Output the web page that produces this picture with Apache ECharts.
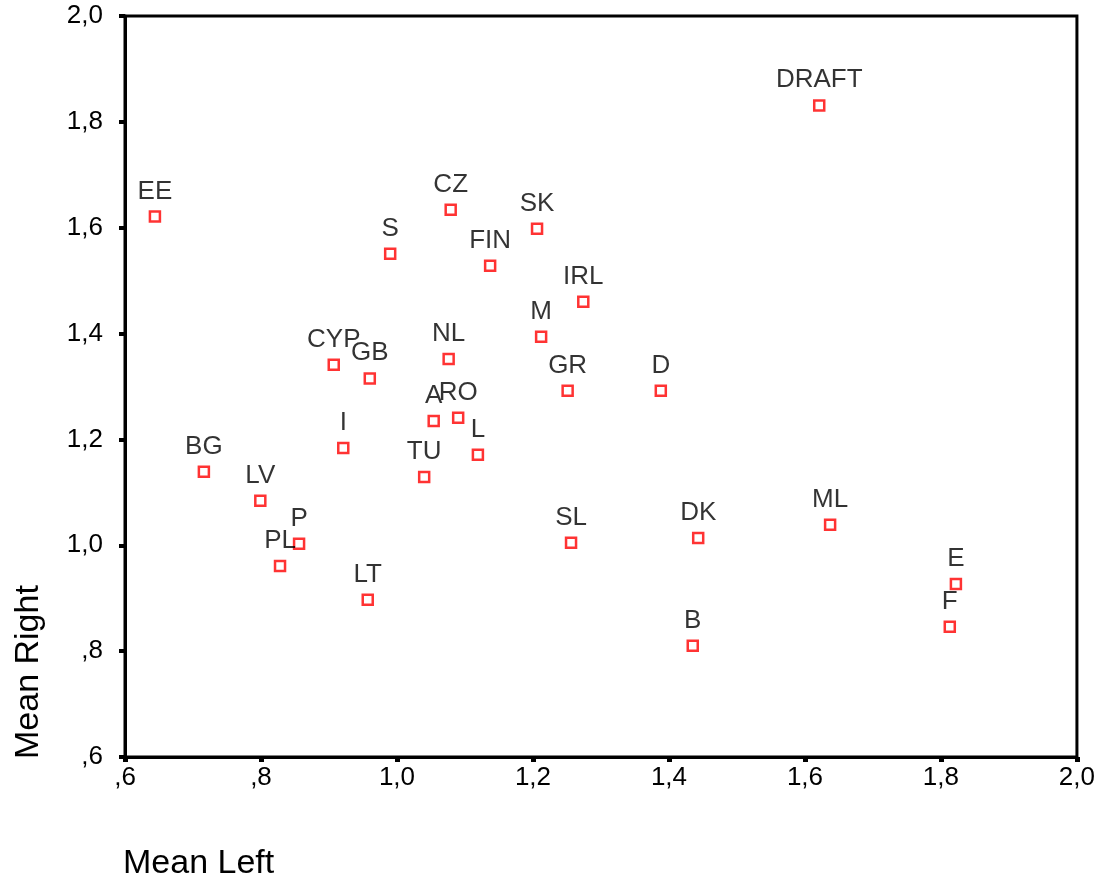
<!DOCTYPE html>
<html>
<head>
<meta charset="utf-8">
<script src="https://cdn.jsdelivr.net/npm/echarts@6/dist/echarts.min.js"></script>
<style>html,body{margin:0;padding:0;background:#fff;}#c{width:1098px;height:881px;}</style>
</head>
<body>
<div id="c"></div>
<script>
const countries = ['EE','BG','LV','P','PL','LT','I','CYP','GB','S','CZ','NL','A','RO','L','TU','FIN','SK','M','IRL','GR','D','SL','DK','B','DRAFT','ML','E','F'];
const meanLeft  = [0.644,0.716,0.799,0.856,0.828,0.957,0.921,0.907,0.960,0.990,1.079,1.076,1.054,1.090,1.119,1.040,1.137,1.206,1.212,1.274,1.251,1.388,1.256,1.443,1.435,1.621,1.637,1.822,1.813];
const meanRight = [1.621,1.139,1.084,1.003,0.961,0.897,1.184,1.341,1.315,1.551,1.634,1.352,1.235,1.241,1.171,1.129,1.528,1.598,1.394,1.460,1.292,1.292,1.005,1.014,0.810,1.831,1.039,0.927,0.846];
const xTitle = 'Mean Left';
const yTitle = 'Mean Right';

const FONT = '"Liberation Sans", Arial, sans-serif';
function fmt(v){ return v.toFixed(1).replace('.', ',').replace(/^0/, ''); }

const data = countries.map((n,i)=>({name:n, value:[meanLeft[i], meanRight[i]]}));

const chart = echarts.init(document.getElementById('c'), null, {renderer:'canvas'});
chart.setOption({
  animation:false,
  backgroundColor:'#fff',
  grid:{left:125, top:16, right:21, bottom:124, show:true, borderColor:'#000', borderWidth:3, backgroundColor:'transparent'},
  xAxis:{
    type:'value', min:0.6, max:2.0, interval:0.2,
    axisLine:{show:true, onZero:false, lineStyle:{color:'#000', width:3}},
    axisTick:{show:true, length:5, lineStyle:{color:'#000', width:5}},
    axisLabel:{color:'#000', fontSize:26, fontFamily:FONT, margin:8, formatter:fmt},
    splitLine:{show:false}
  },
  yAxis:{
    type:'value', min:0.6, max:2.0, interval:0.2,
    axisLine:{show:true, onZero:false, lineStyle:{color:'#000', width:3}},
    axisTick:{show:true, length:6, lineStyle:{color:'#000', width:4}},
    axisLabel:{color:'#000', fontSize:26, fontFamily:FONT, margin:22, formatter:fmt},
    splitLine:{show:false}
  },
  graphic:[
    {type:'text', left:123, top:847, style:{text:xTitle, fontSize:34, fontFamily:FONT, fill:'#000'}},
    {type:'text', x:12, y:759, rotation:Math.PI/2, style:{text:yTitle, fontSize:34, fontFamily:FONT, fill:'#000', textAlign:'left', textVerticalAlign:'top'}}
  ],
  series:[{
    type:'scatter',
    data:data,
    symbol:'rect',
    symbolSize:10,
    itemStyle:{color:'#fff', borderColor:'#ff0000', borderWidth:2.5},
    label:{show:true, position:'top', distance:6, formatter:p=>p.name, color:'#000', fontSize:26, fontFamily:FONT}
  }]
});
</script>
</body>
</html>
